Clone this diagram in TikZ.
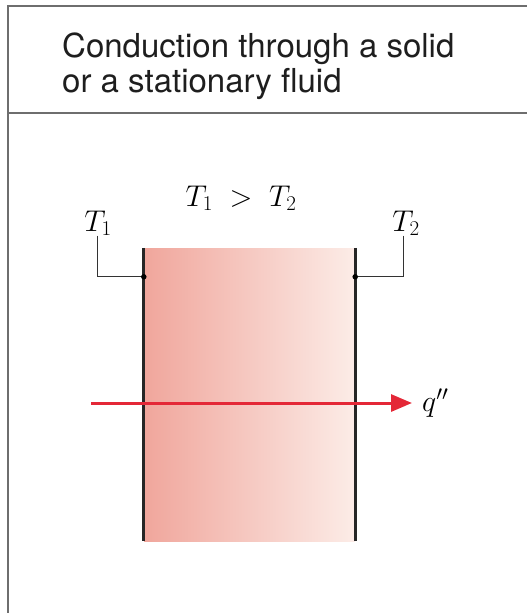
\RequirePackage{fix-cm}
\documentclass[tikz,border=0pt]{standalone}
\usepackage{fontspec}
\setsansfont{TeX Gyre Heros}
\usepackage{tikz}
\usetikzlibrary{arrows.meta, positioning, calc}
\definecolor{framegray}{RGB}{110, 110, 110}
\definecolor{slableft}{RGB}{240, 166, 156}
\definecolor{slabright}{RGB}{252, 236, 231}
\definecolor{flowred}{RGB}{228, 40, 55}
\definecolor{titleink}{RGB}{30, 30, 30}

\begin{document}
\begin{tikzpicture}[
    x=1pt, y=-1pt,
    frame/.style={framegray, line width=2pt},
    title/.style={font=\sffamily\fontsize{33}{35}\selectfont, titleink, inner sep=0pt, anchor=base west},
    mathlbl/.style={font=\fontsize{30}{36}\selectfont, inner sep=0pt},
    slab/.style={minimum width=211pt, minimum height=293pt, inner sep=0pt, left color=slableft, right color=slabright, draw=none},
    wall/.style={line width=3pt, black!85},
    leader/.style={line width=0.9pt, black!80},
    tap/.style={circle, fill=black, inner sep=0pt, minimum size=5.5pt},
    flow/.style={-{Triangle[length=21pt, width=17pt]}, line width=3pt, flowred},
]
\useasboundingbox (0,0) rectangle (527,613);

% --- Frame and title bar ---
\coordinate (frmtl) at (8,6);
\draw[frame] (527,6) -- (frmtl) -- (8,613);
\draw[frame] (8,113) -- (527,113);
\node[title] (title1) at (62,57) {Conduction through a solid};
\node[title] (title2) at (62,92) {or a stationary fluid};

% --- Slab (solid or stationary fluid) ---
\node[slab] (slab) at (249.5,394.5) {};
\draw[wall] (slab.north west) -- (slab.south west);
\draw[wall] (slab.north east) -- (slab.south east);

% --- Temperatures ---
\node[mathlbl] (cond) at (241,198) {$T_1 \;>\; T_2$};
\node[mathlbl] (t1) at (98,223) {$T_1$};
\node[mathlbl] (t2) at (406,223) {$T_2$};
\coordinate (p1) at ($(slab.north west)+(0,29)$);
\coordinate (p2) at ($(slab.north east)+(0,29)$);
\draw[leader] ([xshift=-1pt]t1.south) |- (p1);
\draw[leader] ([xshift=-3pt]t2.south) |- (p2);
\node[tap] (tap1) at (p1) {};
\node[tap] (tap2) at (p2) {};

% --- Heat flux ---
\coordinate (qin) at (91,403);
\coordinate (qtip) at (412,403);
\node[mathlbl, right=10pt of qtip] (qlbl) {$q''$};
\draw[flow] (qin) -- (qtip);

\end{tikzpicture}
\end{document}
